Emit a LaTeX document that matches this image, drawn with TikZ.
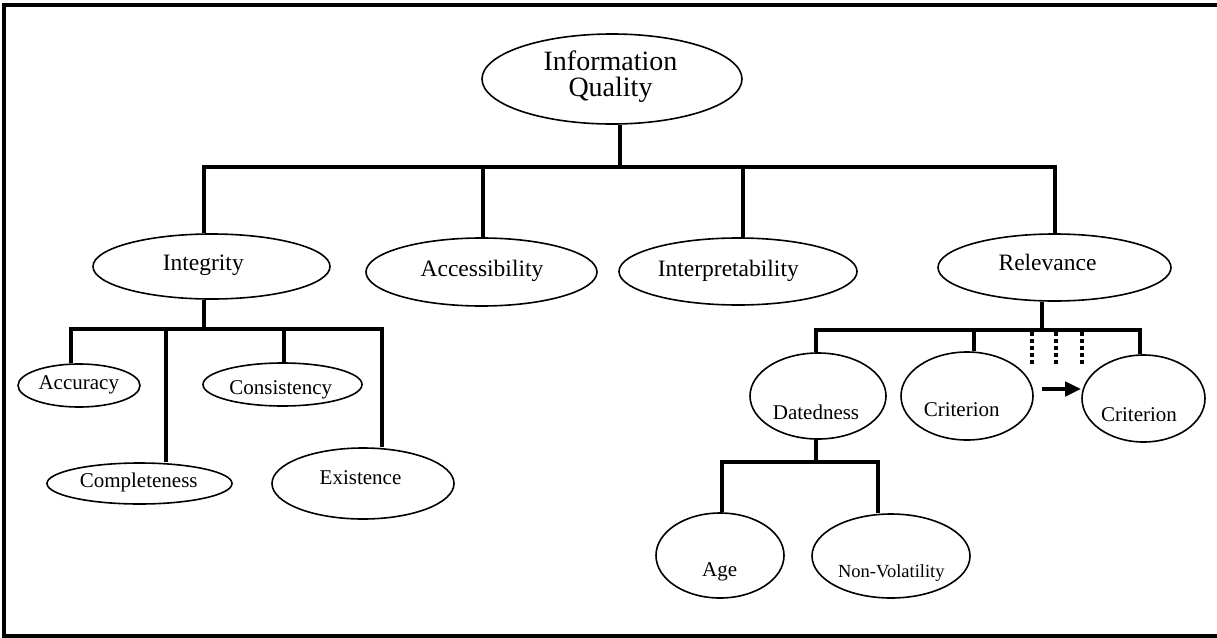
\documentclass[tikz,border=0pt]{standalone}
\usepackage{fontspec}
\setmainfont{Liberation Serif}
\usetikzlibrary{shapes.geometric,arrows.meta}
\begin{document}
\begin{tikzpicture}[x=1pt,y=-1pt,
  oval/.style={draw, ellipse, line width=1.6pt, inner sep=0pt},
  sz/.style 2 args={minimum width=#1, minimum height=#2},
  tree/.style={line width=4pt, line join=miter},
  frameline/.style={line width=3.6pt},
  dots/.style={line width=3.4pt, dash pattern=on 4pt off 3pt},
  arr/.style={line width=4pt, -{Triangle[length=16pt,width=14pt]}},
  tA/.style={anchor=center, align=center, font=\fontsize{28}{26}\selectfont},
  tB/.style={anchor=base, font=\fontsize{23.5}{26}\selectfont},
  tC/.style={anchor=base, font=\fontsize{21}{24}\selectfont},
  tD/.style={anchor=base, font=\fontsize{18.5}{22}\selectfont}]
\useasboundingbox (0,0) rectangle (1217,637);
% frame
\draw[frameline] (1225,5) -- (4,5) -- (4,636) -- (1225,636);

% ellipses
\node[oval, sz={260pt}{90pt}] (root) at (612,79) {};
\node[oval, sz={237pt}{65pt}] (integ) at (211.5,266.5) {};
\node[oval, sz={231pt}{68pt}] (access) at (481.5,272) {};
\node[oval, sz={238pt}{67pt}] (interp) at (738,271.5) {};
\node[oval, sz={233pt}{67pt}] (relev) at (1054.5,267.5) {};
\node[oval, sz={122pt}{43pt}] (accur) at (79,385.5) {};
\node[oval, sz={159pt}{43pt}] (consis) at (282.5,384.5) {};
\node[oval, sz={185pt}{41pt}] (compl) at (139.5,483.5) {};
\node[oval, sz={182pt}{71pt}] (exist) at (363,483.5) {};
\node[oval, sz={136pt}{86pt}] (dated) at (818,396) {};
\node[oval, sz={132pt}{88pt}] (critA) at (967,396) {};
\node[oval, sz={123pt}{87pt}] (critB) at (1143.5,398.5) {};
\node[oval, sz={128pt}{85pt}] (age) at (720,555.5) {};
\node[oval, sz={158pt}{84pt}] (nonvol) at (891,556) {};

% texts
\node[tA] (rootT) at (610.5,76.5) {Information\\Quality};
\node[tB] (integT) at (203.3,270.7) {Integrity};
\node[tB] (accessT) at (482,276) {Accessibility};
\node[tB] (interpT) at (728.3,276) {Interpretability};
\node[tB] (relevT) at (1047.5,270.7) {Relevance};
\node[tC] (accurT) at (78.8,389.3) {Accuracy};
\node[tC] (consisT) at (280.8,394) {Consistency};
\node[tC] (complT) at (138.7,487.7) {Completeness};
\node[tC] (existT) at (360.5,484) {Existence};
\node[tC] (datedT) at (816,419) {Datedness};
\node[tC] (critAT) at (961.7,416.7) {Criterion};
\node[tC] (critBT) at (1139,421.7) {Criterion};
\node[tC] (ageT) at (719.7,576.7) {Age};
\node[tD] (nonvolT) at (891.3,577.3) {Non-Volatility};

% level 1 tree
\coordinate (j0) at (620,167);
\coordinate (dInteg) at (204,167);
\coordinate (dAccess) at (483,167);
\coordinate (dInterp) at (743,167);
\coordinate (dRelev) at (1055,167);
\draw[tree] (j0 |- root.south) -- (j0);
\draw[tree] (dInteg |- integ.north) -- (dInteg) -- (dRelev) -- (dRelev |- relev.north);
\draw[tree] (dAccess) -- (dAccess |- access.north);
\draw[tree] (dInterp) -- (dInterp |- interp.north);

% integrity subtree
\coordinate (j1) at (204,329);
\coordinate (dAccur) at (71,329);
\coordinate (dCompl) at (166,329);
\coordinate (dConsis) at (284,329);
\coordinate (dExist) at (382,329);
\draw[tree] (j1 |- integ.south) -- (j1);
\draw[tree] (dAccur |- accur.north) -- (dAccur) -- (dExist) -- (dExist |- exist.north);
\draw[tree] (dCompl) -- (dCompl |- compl.north);
\draw[tree] (dConsis) -- (dConsis |- consis.north);

% relevance subtree
\coordinate (j2) at (1042,330);
\coordinate (dDated) at (816,330);
\coordinate (dCritA) at (974,330);
\coordinate (dCritB) at (1140,330);
\draw[tree] (j2 |- relev.south) -- (j2);
\draw[tree] (dDated |- dated.north) -- (dDated) -- (dCritB) -- (dCritB |- critB.north);
\draw[tree] (dCritA) -- (dCritA |- critA.north);
\coordinate (q1) at (1032,332);
\coordinate (q2) at (1056,332);
\coordinate (q3) at (1082,332);
\draw[dots] (q1) -- ++(0,34);
\draw[dots] (q2) -- ++(0,34);
\draw[dots] (q3) -- ++(0,34);
\coordinate (arrS) at (1042,389);
\draw[arr] (arrS) -- (arrS -| critB.west);

% datedness subtree
\coordinate (j3) at (816,462);
\coordinate (dAge) at (722,462);
\coordinate (dNonvol) at (878,462);
\draw[tree] (j3 |- dated.south) -- (j3);
\draw[tree] (dAge |- age.north) -- (dAge) -- (dNonvol) -- (dNonvol |- nonvol.north);
\end{tikzpicture}
\end{document}
